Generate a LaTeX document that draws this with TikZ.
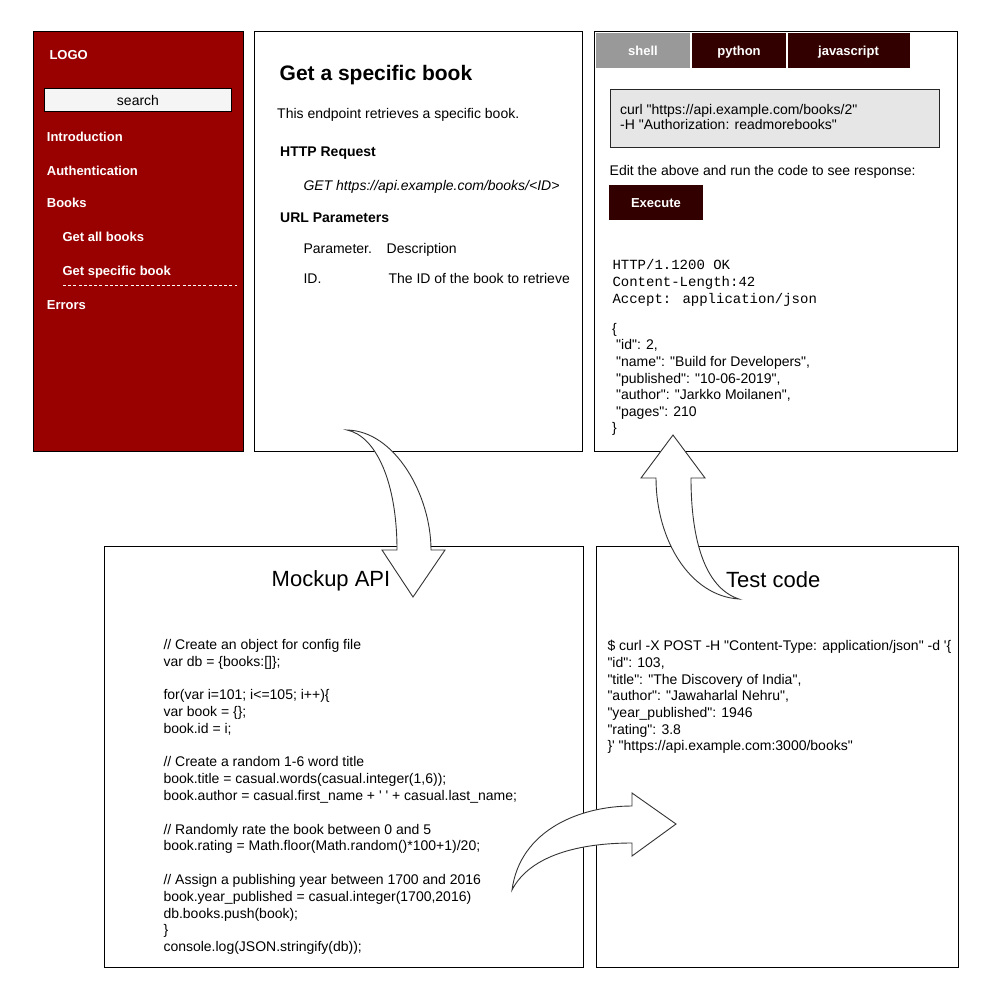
\documentclass[tikz,border=0pt]{standalone}
\usepackage{fontspec}
\setmainfont{Liberation Sans}
\newfontfamily\libsans{Liberation Sans}
\newfontfamily\libmono{Liberation Mono}
\AtBeginDocument{\libsans}
\definecolor{sidered}{HTML}{990000}
\definecolor{darkred}{HTML}{330000}
\definecolor{tabgray}{HTML}{999999}
\definecolor{codebg}{HTML}{E6E6E6}
\definecolor{searchbg}{HTML}{F5F5F5}
\newcommand\firststrut{\rule{0pt}{12pt}}
\tikzset{
  panel/.style={draw=black, line width=1pt, fill=white, inner sep=0pt, anchor=north west},
  lbl/.style={inner sep=0pt, anchor=base west, font=\fontsize{14}{16.8}\selectfont},
  boldlbl/.style={inner sep=0pt, anchor=base west, font=\fontsize{14}{16.8}\selectfont\bfseries},
  sidelbl/.style={inner sep=0pt, anchor=base west, text=white, font=\fontsize{13}{15.6}\selectfont\bfseries},
  codeblock/.style={inner sep=0pt, anchor=north west, align=left},
  tabbox/.style={inner sep=0pt, minimum height=35.4pt, text=white, text height=11pt, text depth=0pt, font=\fontsize{13}{15.6}\selectfont\bfseries},
  maintitle/.style={inner sep=0pt, anchor=base, font=\fontsize{22}{26}\selectfont},
  blockarrow/.style={draw=black!80, fill=white, line width=0.9pt, line join=miter},
}
\begin{document}
\begin{tikzpicture}[x=1pt,y=-1pt]
\useasboundingbox (0,0) rectangle (996,988);
\fill[white] (0,0) rectangle (996,988);

% ---------- panels ----------
\node[panel, fill=sidered, minimum width=210pt, minimum height=420.5pt] (sidebar) at (32.5,30.5) {};
\node[panel, minimum width=328pt, minimum height=420.5pt] (doc) at (254,30.5) {};
\node[panel, minimum width=363.5pt, minimum height=420.5pt] (code) at (593.5,30.5) {};
\node[panel, minimum width=479pt, minimum height=421pt] (mockup) at (104,546) {};
\node[panel, minimum width=362pt, minimum height=421pt] (test) at (596,546) {};

% ---------- sidebar ----------
\node[sidelbl] (logo) at (49.3,59.5) {LOGO};
\node[draw=black, line width=1pt, fill=searchbg, inner sep=0pt, minimum width=187.7pt, minimum height=23.3pt,
      text height=10pt, text depth=0pt, font=\fontsize{14}{16.8}\selectfont] (search) at (138,100.3) {search};
\node[sidelbl] (intro) at (46.7,141.3) {Introduction};
\node[sidelbl] (auth) at (46.7,175.3) {Authentication};
\node[sidelbl] (books) at (46.7,207.5) {Books};
\node[sidelbl] (getall) at (62.3,241.3) {Get all books};
\node[sidelbl] (getone) at (62.3,275.3) {Get specific book};
\coordinate (dashA) at (63,285.5);
\coordinate (dashB) at (237,285.5);
\draw[white, line width=0.8pt, dash pattern=on 3pt off 2.2pt] (dashA) -- (dashB);
\node[sidelbl] (errors) at (46.7,309.7) {Errors};

% ---------- documentation panel ----------
\node[inner sep=0pt, anchor=base west, font=\fontsize{21}{25}\selectfont\bfseries] (doctitle) at (279.5,80.7) {Get a specific book};
\node[lbl] (docdesc) at (277,118.7) {This endpoint retrieves a specific book.};
\node[boldlbl] (httpreq) at (280,156.3) {HTTP Request};
\node[lbl, font=\fontsize{14}{16.8}\selectfont\itshape] (geturl) at (303.3,190.7) {GET https://api.example.com/books/<ID>};
\node[boldlbl] (urlpar) at (280,222.3) {URL Parameters};
\node[lbl] (parhead) at (303.3,253) {Parameter.};
\node[lbl] (deschead) at (386.5,253) {Description};
\node[lbl] (idcell) at (303.3,283) {ID.};
\node[lbl] (idesc) at (388.3,283) {The ID of the book to retrieve};

% ---------- code panel ----------
\node[tabbox, fill=tabgray, minimum width=94pt] (shell) at (643,50.4) {shell};
\node[tabbox, fill=darkred, minimum width=94pt] (python) at (739,50.4) {python};
\node[tabbox, fill=darkred, minimum width=122pt] (js) at (848.5,50.4) {javascript};
\node[draw=black!85, line width=1pt, fill=codebg, inner sep=0pt, anchor=north west,
      minimum width=329.8pt, minimum height=58.6pt] (curlbox) at (609.5,88.7) {};
\node[codeblock, font=\fontsize{14}{15}\selectfont] (curltext) at (620,102)
  {\firststrut curl "https://api.example.com/books/2"\\-H "Authorization: readmorebooks"};
\node[lbl] (edit) at (609.5,175.5) {Edit the above and run the code to see response:};
\node[tabbox, fill=darkred, minimum width=93.7pt, minimum height=35.6pt, text height=10pt] (execute) at (656,202.5) {Execute};
\node[codeblock, font=\libmono\fontsize{14}{17}\selectfont] (httpresp) at (612.3,257.3)
  {\firststrut HTTP/1.1200 OK\\Content-Length:42\\Accept: application/json};
\node[codeblock, font=\fontsize{14}{16.6}\selectfont] (jsonresp) at (612,321)
  {\firststrut \{\\
   \hspace*{4pt}"id": 2,\\
   \hspace*{4pt}"name": "Build for Developers",\\
   \hspace*{4pt}"published": "10-06-2019",\\
   \hspace*{4pt}"author": "Jarkko Moilanen",\\
   \hspace*{4pt}"pages": 210\\
   \}};

% ---------- mockup API ----------
\node[maintitle] (mocktitle) at (331,586.7) {Mockup API};
\node[codeblock, font=\fontsize{14}{16.8}\selectfont] (mockcode) at (163.3,637)
  {\firststrut // Create an object for config file\\
   var db = \{books:[]\};\\[16.8pt]
   for(var i=101; i<=105; i++)\{\\
   var book = \{\};\\
   book.id = i;\\[16.8pt]
   // Create a random 1-6 word title\\
   book.title = casual.words(casual.integer(1,6));\\
   book.author = casual.first\_name + ' ' + casual.last\_name;\\[16.8pt]
   // Randomly rate the book between 0 and 5\\
   book.rating = Math.floor(Math.random()*100+1)/20;\\[16.8pt]
   // Assign a publishing year between 1700 and 2016\\
   book.year\_published = casual.integer(1700,2016)\\
   db.books.push(book);\\
   \}\\
   console.log(JSON.stringify(db));};

% ---------- test code ----------
\node[maintitle] (testtitle) at (773.3,587.7) {Test code};
\node[codeblock, font=\fontsize{14}{16.67}\selectfont] (testcode) at (607.3,638.7)
  {\firststrut \$ curl -X POST -H "Content-Type: application/json" -d '\{\\
   "id": 103,\\
   "title": "The Discovery of India",\\
   "author": "Jawaharlal Nehru",\\
   "year\_published": 1946\\
   "rating": 3.8\\
   \}' "https://api.example.com:3000/books"};

% ---------- curved block arrows ----------
% documentation -> mockup
\draw[blockarrow] (347,430) .. controls (395,431) and (431,495) .. (431,550)
  -- (445,550) -- (413,597) -- (382,550) -- (397,550)
  .. controls (397,482) and (376,436) .. cycle;
% test code -> code panel
\draw[blockarrow] (739,599) .. controls (690,596) and (656,540) .. (656,478)
  -- (641,478) -- (673,435) -- (705,478) -- (691,478)
  .. controls (691,540) and (705,588) .. cycle;
% mockup -> test code
\draw[blockarrow] (512,890) .. controls (520,830) and (580,806) .. (632,806)
  -- (632,793) -- (676,824) -- (632,856) -- (632,843)
  .. controls (580,843) and (530,855) .. cycle;
\end{tikzpicture}
\end{document}
